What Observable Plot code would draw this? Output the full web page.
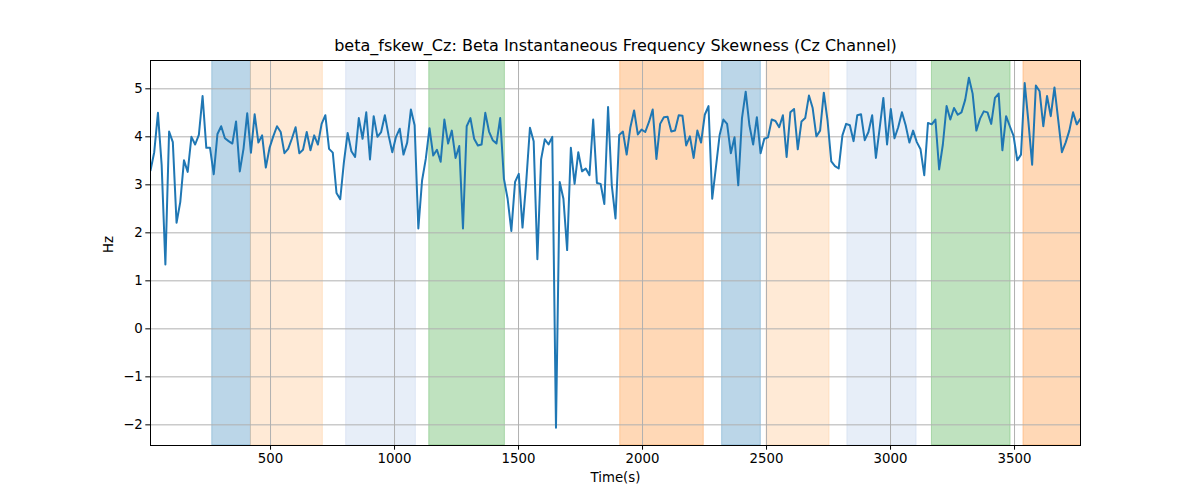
<!DOCTYPE html>
<html>
<head>
<meta charset="utf-8">
<script src="https://cdn.jsdelivr.net/npm/d3@7"></script>
<script src="https://cdn.jsdelivr.net/npm/@observablehq/plot@0.6"></script>
<style>
  html, body { margin: 0; padding: 0; background: white; }
  #chart { width: 1200px; height: 500px; }
</style>
</head>
<body>
<div id="chart"></div>
<script>
const titleText = "beta_fskew_Cz: Beta Instantaneous Frequency Skewness (Cz Channel)";
const xLabel = "Time(s)";
const yLabel = "Hz";

// Sampling grid of the series (seconds)
const timeStart = 16;
const timeStep = 15;

// Series values (Hz)
const values = [
  3.30, 3.68, 4.50, 3.41, 1.34, 4.11, 3.89, 2.21, 2.64, 3.51,
  3.27, 4.00, 3.84, 4.04, 4.85, 3.77, 3.77, 3.22, 4.06, 4.22,
  3.97, 3.91, 3.86, 4.32, 3.28, 3.75, 4.49, 3.67, 4.47, 3.88,
  4.03, 3.36, 3.77, 4.01, 4.22, 4.10, 3.66, 3.75, 3.96, 4.20,
  3.66, 3.73, 4.10, 3.72, 4.03, 3.84, 4.27, 4.45, 3.75, 3.67,
  2.83, 2.70, 3.48, 4.08, 3.70, 3.58, 4.39, 3.96, 4.51, 3.53,
  4.43, 4.00, 4.10, 4.45, 4.03, 3.68, 4.00, 4.17, 3.63, 3.88,
  4.57, 4.24, 2.09, 3.09, 3.54, 4.18, 3.61, 3.73, 3.48, 4.36,
  3.86, 4.13, 3.56, 3.81, 2.09, 4.22, 4.39, 3.96, 3.82, 3.84,
  4.50, 4.11, 3.93, 3.86, 4.39, 3.13, 2.71, 2.04, 3.06, 3.23,
  2.11, 3.06, 4.19, 3.91, 1.45, 3.53, 3.95, 3.84, 4.00, -2.06,
  3.06, 2.71, 1.64, 3.77, 3.02, 3.68, 3.28, 3.34, 3.20, 4.36,
  3.04, 3.02, 2.60, 4.62, 2.99, 2.30, 4.04, 4.11, 3.63, 4.20,
  4.55, 4.05, 4.15, 4.10, 4.31, 4.57, 3.54, 4.27, 4.41, 4.42,
  4.11, 4.13, 4.45, 4.44, 3.82, 4.01, 3.56, 4.13, 3.88, 4.46,
  4.64, 2.71, 3.37, 4.04, 4.36, 4.27, 3.66, 3.99, 2.99, 4.39,
  4.94, 4.24, 3.84, 4.41, 3.66, 3.96, 3.99, 4.36, 4.33, 4.20,
  4.45, 3.58, 4.51, 4.58, 3.74, 4.32, 4.39, 4.86, 4.60, 4.01,
  4.13, 4.92, 4.34, 3.49, 3.39, 3.34, 4.03, 4.27, 4.24, 3.91,
  4.45, 4.47, 3.93, 4.10, 4.45, 3.56, 4.17, 4.81, 3.84, 4.58,
  3.97, 4.20, 4.51, 4.24, 3.88, 4.13, 3.89, 3.74, 3.20, 4.29,
  4.26, 4.36, 3.32, 3.84, 4.64, 4.36, 4.60, 4.46, 4.51, 4.77,
  5.23, 4.90, 4.13, 4.38, 4.53, 4.51, 4.27, 4.81, 4.90, 3.72,
  4.43, 4.22, 4.02, 3.51, 3.63, 5.12, 4.31, 3.42, 5.07, 4.95,
  4.22, 4.85, 4.43, 5.03, 4.36, 3.68, 3.88, 4.13, 4.51, 4.26,
  4.38
];

// Shaded intervals
const bandStarts = [265, 421, 805, 1140, 1910, 2321, 2500, 2826, 3167, 3536];
const bandEnds   = [421, 711, 1086, 1445, 2247, 2477, 2754, 3105, 3484, 3800];
const bandColors = ["#1f77b4", "#ffbb78", "#aec7e8", "#2ca02c", "#ff7f0e",
                    "#1f77b4", "#ffbb78", "#aec7e8", "#2ca02c", "#ff7f0e"];

// Tick labels
const xTicks = [500, 1000, 1500, 2000, 2500, 3000, 3500];
const yTicks = [-2, -1, 0, 1, 2, 3, 4, 5];

const xDomain = [16, 3766];
const yDomain = [-2.43, 5.59];

const series = values.map((v, i) => ({t: timeStart + i * timeStep, v}));
const bands = bandStarts.map((s, i) => ({start: s, end: bandEnds[i], color: bandColors[i]}));

const font = "'DejaVu Sans', sans-serif";
const gridStyle = {stroke: "#b0b0b0", strokeOpacity: 1, strokeWidth: 1};

const chart = Plot.plot({
  width: 1200,
  height: 500,
  marginLeft: 150,
  marginRight: 120,
  marginTop: 60,
  marginBottom: 55,
  style: {fontFamily: font, fontSize: "13.3px", background: "white", color: "black"},
  x: {domain: xDomain},
  y: {domain: yDomain},
  marks: [
    Plot.rect(bands, {x1: "start", x2: "end", fill: d => d.color, fillOpacity: 0.3,
      stroke: d => d.color, strokeOpacity: 0.3, strokeWidth: 1, clip: true}),
    Plot.gridX(xTicks, gridStyle),
    Plot.gridY(yTicks, gridStyle),
    Plot.line(series, {x: "t", y: "v", stroke: "#1f77b4", strokeWidth: 2, clip: true}),
    Plot.frame({stroke: "black", strokeWidth: 1}),
    Plot.axisX(xTicks, {tickSize: 4.7, tickPadding: 3, fontSize: 13.3, label: null, stroke: "black",
      tickFormat: d => String(d)}),
    Plot.axisY(yTicks, {tickSize: 4.7, tickPadding: 3, fontSize: 13.3, label: null, stroke: "black",
      tickFormat: d => d < 0 ? "\u2212" + Math.abs(d) : String(d)}),
    Plot.text([xLabel], {frameAnchor: "bottom", dy: 36, fontSize: 13.3, fill: "black"}),
    Plot.text([yLabel], {frameAnchor: "left", dx: -42, rotate: -90, fontSize: 13.3, fill: "black"}),
    Plot.text([titleText], {frameAnchor: "top", dy: -10, fontSize: 16, fill: "black", lineAnchor: "bottom"})
  ]
});

document.getElementById("chart").appendChild(chart);
</script>
</body>
</html>
